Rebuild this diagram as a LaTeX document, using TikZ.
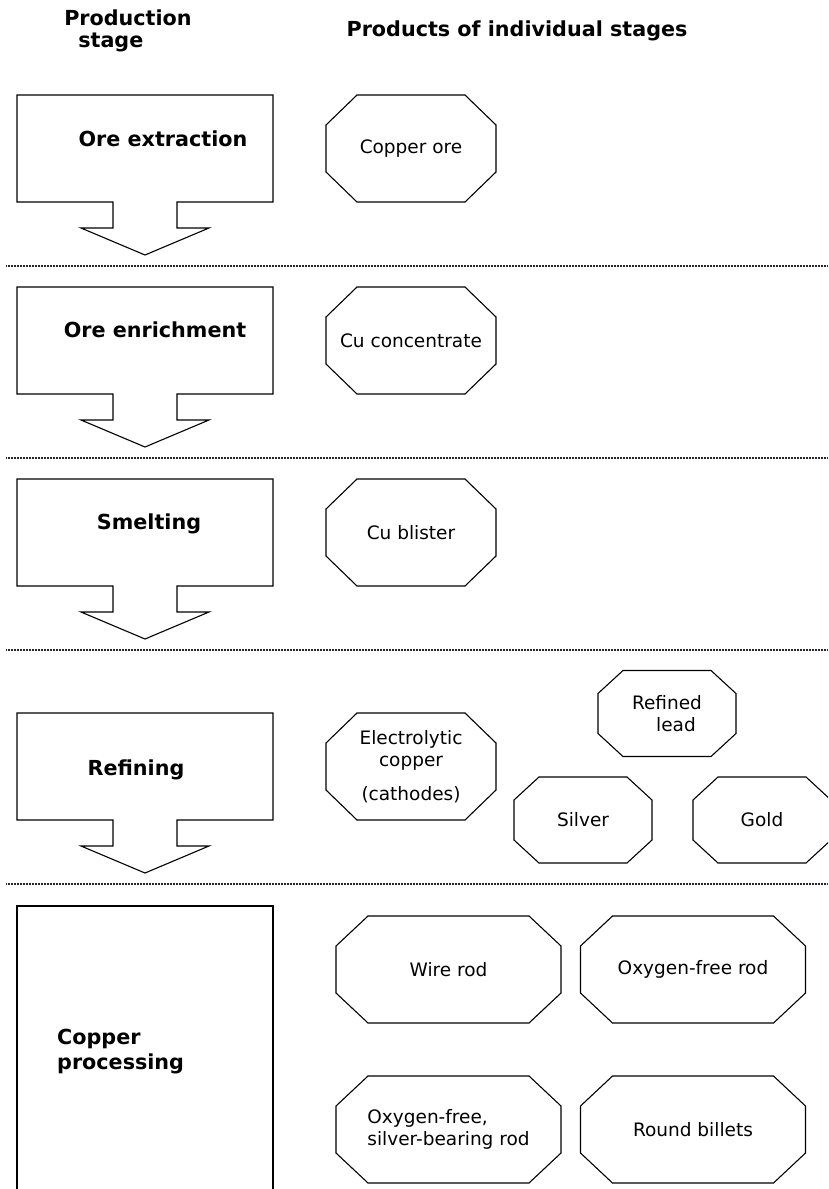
\documentclass[tikz,border=0pt]{standalone}
\usepackage{fontspec}
\setmainfont{DejaVu Sans}
\usepackage{tikz}
\usetikzlibrary{positioning}

\begin{document}
\begin{tikzpicture}[x=1pt, y=-1pt,
  heading/.style={font=\bfseries\fontsize{20.7}{22}\selectfont, inner sep=0pt},
  stagetext/.style={font=\bfseries\fontsize{20.7}{25}\selectfont, inner sep=0pt},
  outline/.style={line width=1.1pt, line join=miter},
  octagon/.style 2 args={append after command={\pgfextra{\draw [outline]
    ([xshift=#1]\tikzlastnode.north west) -- ([xshift=-#1]\tikzlastnode.north east)
    -- ([yshift=-#2]\tikzlastnode.north east) -- ([yshift=#2]\tikzlastnode.south east)
    -- ([xshift=-#1]\tikzlastnode.south east) -- ([xshift=#1]\tikzlastnode.south west)
    -- ([yshift=#2]\tikzlastnode.south west) -- ([yshift=-#2]\tikzlastnode.north west) -- cycle;}}},
  productbase/.style={inner sep=0pt, outer sep=0pt,
    font=\fontsize{18.5}{22}\selectfont, align=center},
  product/.style={productbase, minimum width=170pt, minimum height=107pt, octagon={31pt}{30pt}},
  smallproduct/.style={productbase, minimum width=138pt, minimum height=86pt, octagon={25pt}{23pt}},
  wideproduct/.style={productbase, minimum width=225pt, minimum height=107pt, octagon={32pt}{30pt}},
  divider/.style={line width=1.5pt, black!85, dash pattern=on 1pt off 0.5pt}]
\useasboundingbox (0,0) rectangle (828,1189);
\clip (0,0) rectangle (828,1189);

% column headings
\node [heading, align=left] (stagehead) at (128,31) {Production\\\hspace*{14pt}stage};
\node [heading] (producthead) at (517,31) {Products of individual stages};

% stage arrows
\draw [outline] (17,95) -- (273,95) -- (273,202) -- (177,202) -- (177,228) -- (209,228) -- (145,255) -- (81,228) -- (113,228) -- (113,202) -- (17,202) -- cycle;
\draw [outline] (17,287) -- (273,287) -- (273,394) -- (177,394) -- (177,420) -- (209,420) -- (145,447) -- (81,420) -- (113,420) -- (113,394) -- (17,394) -- cycle;
\draw [outline] (17,479) -- (273,479) -- (273,586) -- (177,586) -- (177,612) -- (209,612) -- (145,639) -- (81,612) -- (113,612) -- (113,586) -- (17,586) -- cycle;
\draw [outline] (17,713) -- (273,713) -- (273,820) -- (177,820) -- (177,846) -- (209,846) -- (145,873) -- (81,846) -- (113,846) -- (113,820) -- (17,820) -- cycle;
\draw [outline] (17,1200) -- (17,906) -- (273,906) -- (273,1200);

\node [stagetext] (extraction) at (163,139) {Ore extraction};
\node [stagetext] (enrichment) at (155,330) {Ore enrichment};
\node [stagetext] (smelting) at (149,524) {Smelting};
\node [stagetext] (refining) at (136,770) {Refining};
\node [stagetext, align=left, anchor=west] (processing) at (57,1052) {Copper\\processing};

% dividers
\draw [divider] (6,266) -- (828,266);
\draw [divider] (6,458) -- (828,458);
\draw [divider] (6,650) -- (828,650);
\draw [divider] (6,884) -- (828,884);

% products
\node [product] (ore) at (411,148.5) {Copper ore};
\node [product] (concentrate) at (411,340.5) {Cu concentrate};
\node [product] (blister) at (411,532.5) {Cu blister};
\node [product] (cathode) at (411,766.5) {Electrolytic\\copper\\[12pt](cathodes)};
\node [smallproduct] (lead) at (667,713.5) {Refined\\\hspace*{18pt}lead};
\node [smallproduct] (silver) at (583,820) {Silver};
\node [smallproduct] (gold) at (762,820) {Gold};
\node [wideproduct] (wirerod) at (448.5,969.5) {Wire rod};
\node [wideproduct] (ofrod) at (693,969.5) {Oxygen-free rod};
\node [wideproduct, align=left] (agrod) at (448.5,1129.5) {Oxygen-free,\\silver-bearing rod};
\node [wideproduct] (billets) at (693,1129.5) {Round billets};
\end{tikzpicture}
\end{document}
